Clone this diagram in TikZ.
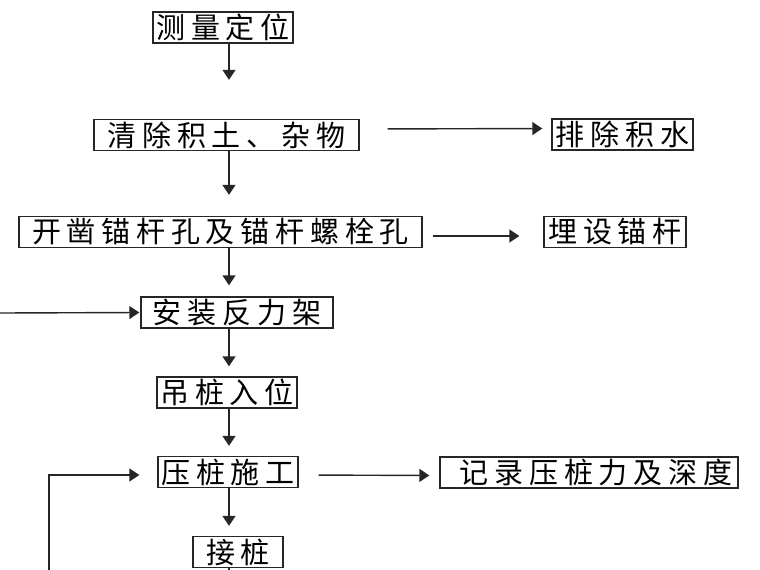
\documentclass[tikz,border=0pt]{standalone}
\usepackage{fontspec}
\usepackage{tikz}
\usetikzlibrary{positioning, arrows.meta}
\newfontfamily\cjk[LetterSpace=20]{Noto Sans CJK SC}
\tikzset{
  stepbox/.style = {draw=black!85, line width=1.4pt, inner sep=0pt,
                    minimum width=#1, minimum height=31pt,
                    font=\cjk\fontsize{29}{31}\selectfont},
  flow/.style    = {->, line width=1.4pt, black!85},
  plain/.style   = {line width=1.4pt, black!85},
  >={Triangle[length=10pt, width=13pt]}
}

\begin{document}
\begin{tikzpicture}[x=1pt, y=-1pt]
  \useasboundingbox (0,0) rectangle (760,570);
  \coordinate (axis) at (229,0);

  % main column
  \node[stepbox=140pt] (clpos) at (223,27.5)  {测量定位};
  \node[stepbox=265pt] (clean) at (226.5,135) {清除积土、杂物};
  \node[stepbox=403pt] (drill) at (220.5,232) {开凿锚杆孔及锚杆螺栓孔};
  \node[stepbox=192pt] (frame) at (237,312.5) {安装反力架};
  \node[stepbox=140pt] (lift)  at (227,392.5) {吊桩入位};
  \node[stepbox=140pt] (press) at (228,472)   {压桩施工};
  \node[stepbox=90pt]  (joint) at (238,552)   {接桩};

  % side boxes
  \node[stepbox=141pt] (drain)  at (622.5,134.5) {排除积水};
  \node[stepbox=142pt] (anchor) at (615,232)     {埋设锚杆};
  \node[stepbox=298pt] (record) at (589,472.5)   {\hspace{14pt}记录压桩力及深度};

  % arrows down
  \draw[flow, shorten >=39pt] (clpos.south -| axis) -- (clean.north -| axis);
  \draw[flow, shorten >=21pt] (clean.south -| axis) -- (drill.north -| axis);
  \draw[flow, shorten >=11pt] (drill.south -| axis) -- (frame.north -| axis);
  \draw[flow, shorten >=10pt] (frame.south -| axis) -- (lift.north -| axis);
  \draw[flow, shorten >=10pt] (lift.south -| axis)  -- (press.north -| axis);
  \draw[flow, shorten >=10pt] (press.south -| axis) -- (joint.north -| axis);
  \coordinate (jout) at (229,570);
  \draw[plain] (joint.south -| axis) -- (jout);

  % arrows to the side
  \draw[flow, shorten <=28pt, shorten >=9pt]
    ([yshift=6pt]clean.east) -- ([yshift=6pt]drain.west);
  \draw[flow, shorten <=10pt, shorten >=24pt]
    ([yshift=-4pt]drill.east) -- ([yshift=-4pt]anchor.west);
  \draw[flow, shorten <=20pt, shorten >=10pt]
    ([yshift=-3pt]press.east) -- ([yshift=-3pt]record.west);

  % incoming lines from the left
  \coordinate (feed) at (0,313);
  \draw[flow, shorten >=1pt] (feed) -- (frame.west);
  \coordinate (loop) at (49,570);
  \draw[flow, shorten >=18pt] (loop) |- ([yshift=-3pt]press.west);
\end{tikzpicture}
\end{document}
